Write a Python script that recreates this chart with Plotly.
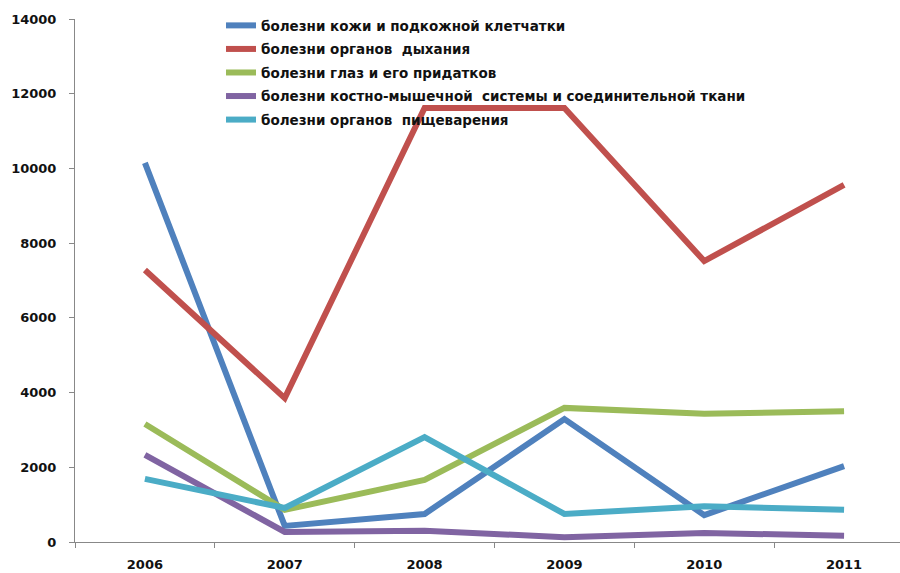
import plotly.graph_objects as go

years = ["2006", "2007", "2008", "2009", "2010", "2011"]
series_names = [
    "болезни кожи и подкожной клетчатки",
    "болезни органов  дыхания",
    "болезни глаз и его придатков",
    "болезни костно-мышечной  системы и соединительной ткани",
    "болезни органов  пищеварения",
]
skin = [10150, 430, 750, 3290, 720, 2030]
respiratory = [7280, 3850, 11620, 11620, 7520, 9560]
eyes = [3160, 860, 1660, 3590, 3430, 3500]
musculo = [2330, 270, 300, 130, 240, 170]
digestive = [1690, 910, 2810, 750, 960, 860]
y_ticks = [0, 2000, 4000, 6000, 8000, 10000, 12000, 14000]
y_tick_labels = ["0", "2000", "4000", "6000", "8000", "10000", "12000", "14000"]

colors = ["#4F81BD", "#C0504D", "#9BBB59", "#8064A2", "#4BACC6"]
data = [skin, respiratory, eyes, musculo, digestive]

fig = go.Figure()
for name, vals, c in zip(series_names, data, colors):
    fig.add_trace(go.Scatter(x=years, y=vals, name=name, mode="lines",
                             line=dict(color=c, width=6), legendgroup=name))

tickfont = dict(family="DejaVu Sans", size=13, color="#111", weight="bold")
fig.update_layout(
    width=900, height=573,
    margin=dict(l=75, r=0, t=19, b=31),
    plot_bgcolor="white", paper_bgcolor="white",
    font=dict(family="DejaVu Sans", size=12, color="#111"),
    showlegend=True,
    legend=dict(x=0.177, y=1.017, xanchor="left", yanchor="top",
                font=dict(family="DejaVu Sans", size=13.5, color="#111", weight="bold"),
                bgcolor="rgba(0,0,0,0)", tracegroupgap=3, itemwidth=30),
    xaxis=dict(type="category", range=[-0.5, 5.4], showgrid=False,
               showline=True, linecolor="#888", linewidth=1,
               ticks="outside", tickson="boundaries", ticklen=5, tickcolor="#888",
               tickfont=tickfont, ticklabelstandoff=10, automargin=False),
    yaxis=dict(range=[0, 14000], tickvals=y_ticks, ticktext=y_tick_labels,
               showgrid=False, zeroline=False,
               showline=True, linecolor="#888", linewidth=1,
               ticks="outside", ticklen=5, tickcolor="#888",
               tickfont=tickfont, ticklabelstandoff=10, automargin=False),
)
fig.write_html("out.html", config={"displayModeBar": False},
               post_script="document.body.style.margin='0';")
